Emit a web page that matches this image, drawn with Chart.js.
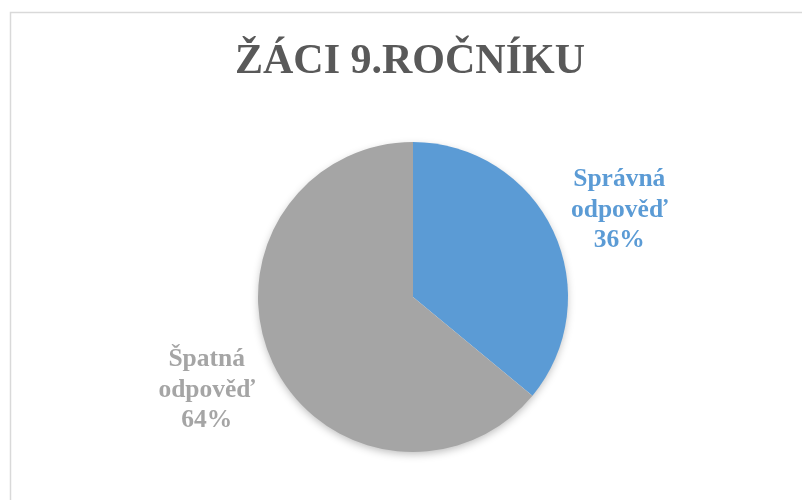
<!DOCTYPE html>
<html>
<head>
<meta charset="utf-8">
<script src="https://cdn.jsdelivr.net/npm/chart.js@4"></script>
<style>
  html, body { margin: 0; padding: 0; background: #ffffff; }
  #wrap { width: 802px; height: 500px; position: relative; }
</style>
</head>
<body>
<div id="wrap"><canvas id="pieChart" width="802" height="500"></canvas></div>
<script>
// chart data
const chartTitle = 'ŽÁCI 9.ROČNÍKU';
const categories = [['Správná', 'odpověď'], ['Špatná', 'odpověď']];
const values = [36, 64];
const sliceColors = ['#5B9BD5', '#A5A5A5'];

// small nudges so the outside labels sit where Excel put them
const labelNudgeY = [10, -4];

// frame + title + shadow + outside labels, drawn with the arc geometry from chart.js
const decorPlugin = {
    id: 'decor',
    beforeDraw(chart) {
        const ctx = chart.ctx;
        ctx.save();
        ctx.strokeStyle = '#D9D9D9';
        ctx.lineWidth = 1.5;
        ctx.beginPath();
        ctx.moveTo(10.5, 520);
        ctx.lineTo(10.5, 12.5);
        ctx.lineTo(820, 12.5);
        ctx.stroke();

        ctx.fillStyle = '#595959';
        ctx.font = "bold 42px 'Liberation Serif', 'Times New Roman', serif";
        ctx.textAlign = 'center';
        ctx.textBaseline = 'alphabetic';
        ctx.fillText(chartTitle, 410, 73);
        ctx.restore();
    },
    beforeDatasetsDraw(chart) {
        // soft shadow under the whole pie
        const arc = chart.getDatasetMeta(0).data[0];
        if (!arc) return;
        const ctx = chart.ctx;
        ctx.save();
        ctx.shadowColor = 'rgba(0,0,0,0.28)';
        ctx.shadowBlur = 8;
        ctx.shadowOffsetY = 3;
        ctx.fillStyle = '#ffffff';
        ctx.beginPath();
        ctx.arc(arc.x, arc.y, arc.outerRadius - 1, 0, Math.PI * 2);
        ctx.fill();
        ctx.restore();
    },
    afterDatasetsDraw(chart) {
        const ctx = chart.ctx;
        const meta = chart.getDatasetMeta(0);
        const total = values.reduce((a, b) => a + b, 0);
        ctx.save();
        ctx.font = "bold 25.5px 'Liberation Serif', 'Times New Roman', serif";
        ctx.textAlign = 'center';
        ctx.textBaseline = 'middle';
        meta.data.forEach((arc, i) => {
            const mid = (arc.startAngle + arc.endAngle) / 2;
            const dist = arc.outerRadius + 73;
            const lx = arc.x + Math.cos(mid) * dist;
            const ly = arc.y + Math.sin(mid) * dist + labelNudgeY[i];
            const lines = categories[i].concat([Math.round(values[i] / total * 100) + '%']);
            const lh = 30.5;
            ctx.fillStyle = sliceColors[i];
            lines.forEach((t, j) => {
                ctx.fillText(t, lx, ly + (j - (lines.length - 1) / 2) * lh);
            });
        });
        ctx.restore();
    }
};

const pieCtx = document.getElementById('pieChart').getContext('2d');
new Chart(pieCtx, {
    type: 'pie',
    data: {
        labels: categories.map(c => c.join(' ')),
        datasets: [{
            data: values,
            backgroundColor: sliceColors,
            borderWidth: 0
        }]
    },
    options: {
        responsive: false,
        animation: false,
        layout: { padding: { top: 142, bottom: 48, left: 258, right: 234 } },
        plugins: { legend: { display: false }, tooltip: { enabled: false } }
    },
    plugins: [decorPlugin]
});
</script>
</body>
</html>
